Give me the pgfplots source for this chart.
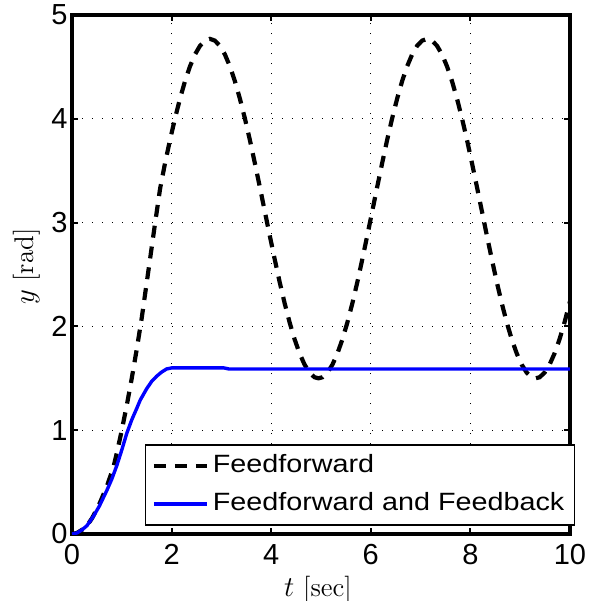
\documentclass[border=0pt]{standalone}
\usepackage{fontspec}
\usepackage{pgfplots}
\pgfplotsset{compat=1.18}
\newfontfamily\arialf{Liberation Sans}
\begin{document}
\begin{tikzpicture}
\path[use as bounding box] (-36pt,-33.5pt) rectangle (260.5pt,267pt);
\begin{axis}[
  scale only axis, width=249pt, height=259.5pt,
  xmin=0, xmax=10, ymin=0, ymax=5,
  xtick={0,2,4,6,8,10}, ytick={0,1,2,3,4,5},
  axis line style={line width=1.7pt, black},
  tick align=inside, major tick length=3pt,
  tick style={line width=1pt, black},
  grid=major,
  grid style={line width=0.6pt, dash pattern=on 0.6pt off 4.4pt, black},
  /pgf/number format/assume math mode=true,
  ticklabel style={font=\arialf\fontsize{14.5}{17}\selectfont},
  xticklabel style={yshift=-1.5pt},
  yticklabel style={xshift=1.3pt},
  xlabel={$t$ [sec]}, ylabel={$y$ [rad]},
  label style={font=\fontsize{13.5}{16}\selectfont, text=black},
  xlabel style={at={(axis description cs:0.494,-0.1208)}, anchor=base},
  ylabel style={at={(axis description cs:-0.0768,0.515)}, anchor=base},
  legend style={at={(1.010,0.016)}, anchor=south east, draw=black, line width=0.6pt, fill=white,
    inner xsep=3.25pt, inner ysep=1pt, row sep=0pt,
    font=\arialf\fontsize{12.5}{15}\selectfont,
    nodes={inner xsep=1.75pt, inner ysep=3.75pt, text height=9pt, text depth=2.5pt}},
  legend cell align=left,
  legend image code/.code={\draw[#1] (0pt,0pt) -- (26.7pt,0pt);},
]
\addplot[black, line width=2.1pt, dash pattern=on 6pt off 4.5pt] coordinates {
(0,0) (0.1,0.01) (0.2,0.04) (0.3,0.08) (0.4,0.15) (0.5,0.24) (0.56,0.30) (0.7,0.46) (0.83,0.64)
(0.9,0.78) (1.0,1.0) (1.1,1.24) (1.2,1.5) (1.3,1.78) (1.4,2.08) (1.5,2.42) (1.6,2.76) (1.67,3.0)
(1.77,3.33) (1.87,3.577) (1.97,3.800) (2.07,4.007) (2.17,4.196) (2.27,4.364) (2.37,4.506)
(2.47,4.620) (2.57,4.703) (2.67,4.753) (2.77,4.770) (2.87,4.753) (2.97,4.703) (3.07,4.620)
(3.17,4.506) (3.27,4.364) (3.37,4.196) (3.47,4.007) (3.57,3.800) (3.67,3.577) (3.77,3.347)
(3.87,3.112) (3.97,2.877) (4.07,2.648) (4.17,2.427) (4.27,2.223) (4.37,2.038) (4.47,1.876)
(4.57,1.740) (4.67,1.632) (4.77,1.555) (4.87,1.510) (4.95,1.500) (5.03,1.510) (5.13,1.555)
(5.23,1.632) (5.33,1.740) (5.43,1.876) (5.53,2.038) (5.63,2.223) (5.73,2.427) (5.83,2.648)
(5.93,2.877) (6.03,3.112) (6.13,3.347) (6.23,3.577) (6.33,3.800) (6.43,4.007) (6.53,4.196)
(6.63,4.364) (6.73,4.506) (6.83,4.620) (6.93,4.703) (7.03,4.753) (7.13,4.770) (7.23,4.753)
(7.33,4.703) (7.43,4.620) (7.53,4.506) (7.63,4.364) (7.73,4.196) (7.83,4.007) (7.93,3.800)
(8.03,3.577) (8.13,3.347) (8.23,3.112) (8.33,2.877) (8.43,2.648) (8.53,2.427) (8.63,2.223)
(8.73,2.038) (8.83,1.876) (8.93,1.740) (9.03,1.632) (9.13,1.555) (9.23,1.510) (9.31,1.500)
(9.39,1.510) (9.49,1.555) (9.59,1.632) (9.69,1.740) (9.79,1.876) (9.89,2.038) (9.99,2.223) (10,2.24)
};
\addlegendentry{\scalebox{1.15}[1]{Feedforward}}
\addplot[blue, line width=1.7pt] coordinates {
(0,0) (0.1,0.01) (0.2,0.04) (0.3,0.08) (0.43,0.17) (0.55,0.27) (0.7,0.42) (0.8,0.53) (0.9,0.66)
(1.0,0.81) (1.1,0.97) (1.2,1.10) (1.3,1.21) (1.37,1.29) (1.5,1.40) (1.6,1.47) (1.7,1.52)
(1.8,1.56) (1.9,1.59) (2.0,1.60) (3.05,1.60) (3.15,1.59) (10,1.59)
};
\addlegendentry{\scalebox{1.15}[1]{Feedforward and Feedback}}
\end{axis}
\end{tikzpicture}
\end{document}
